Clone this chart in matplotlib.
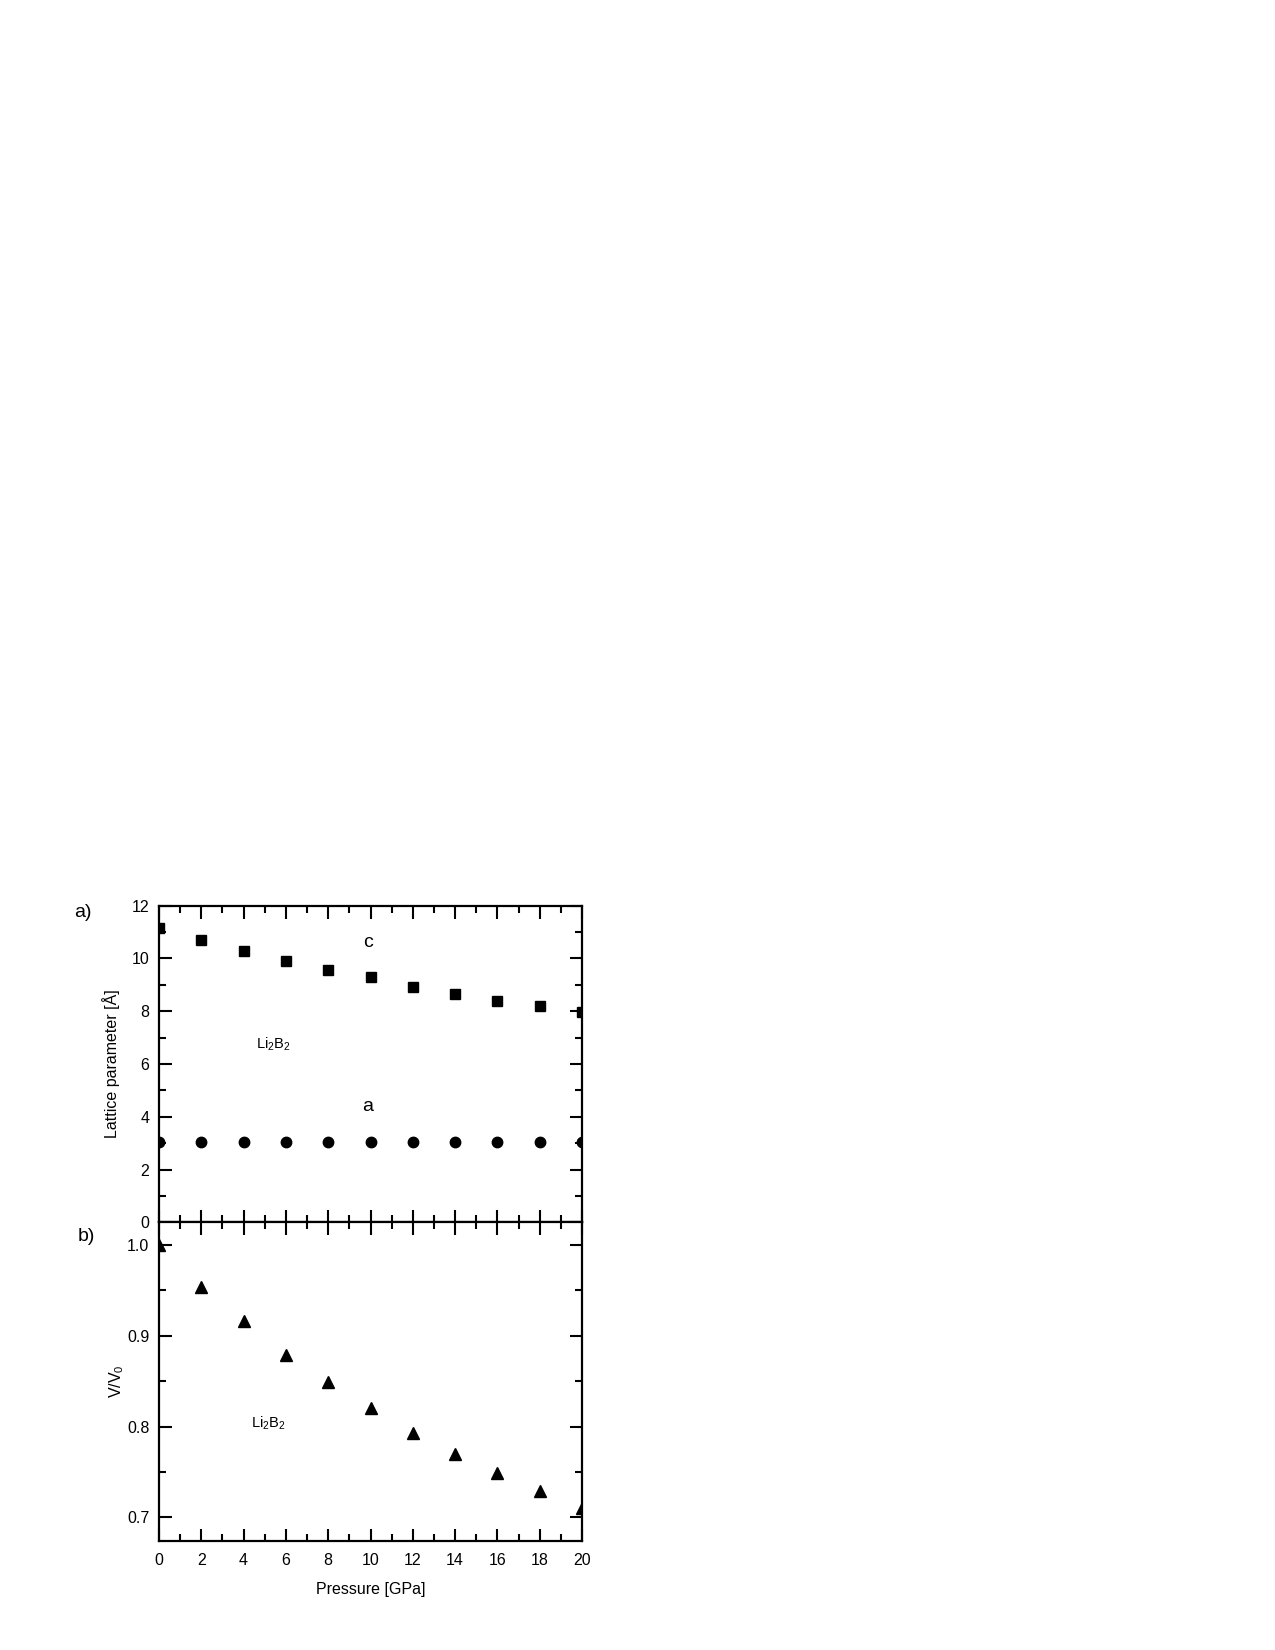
import matplotlib
matplotlib.use('Agg')
import matplotlib.pyplot as plt
from matplotlib.ticker import MultipleLocator, FormatStrFormatter

plt.rcParams['font.family'] = ['Liberation Sans', 'DejaVu Sans']
plt.rcParams['mathtext.fontset'] = 'custom'
plt.rcParams['mathtext.rm'] = 'Liberation Sans'
plt.rcParams['mathtext.it'] = 'Liberation Sans:italic'

# data
pressure = [0, 2, 4, 6, 8, 10, 12, 14, 16, 18, 20]
c_param = [11.16, 10.69, 10.29, 9.92, 9.58, 9.30, 8.92, 8.64, 8.40, 8.20, 7.97]
a_param = [3.04, 3.04, 3.04, 3.03, 3.03, 3.03, 3.04, 3.03, 3.03, 3.03, 3.03]
v_ratio = [1.0, 0.954, 0.916, 0.879, 0.849, 0.820, 0.793, 0.770, 0.749, 0.729, 0.710]

fig = plt.figure(figsize=(12.75, 16.5), dpi=100)
ax1 = fig.add_axes([0.1247, 0.2592, 0.3318, 0.1919])
ax2 = fig.add_axes([0.1247, 0.0661, 0.3318, 0.1931])

for ax in (ax1, ax2):
    ax.set_xlim(0, 20)
    ax.xaxis.set_major_locator(MultipleLocator(2))
    ax.xaxis.set_minor_locator(MultipleLocator(1))
    ax.tick_params(which='both', direction='in', top=True, right=True,
                   width=1.5, labelsize=11.5, colors='black', pad=7)
    ax.tick_params(which='major', length=9)
    ax.tick_params(which='minor', length=5)
    for s in ax.spines.values():
        s.set_linewidth(1.6)
ax2.tick_params(axis='x', pad=9)

# top panel: lattice parameters
ax1.plot(pressure, c_param, 's', color='black', markersize=7)
ax1.plot(pressure, a_param, 'o', color='black', markersize=7.5)
ax1.set_ylim(0, 12)
ax1.yaxis.set_major_locator(MultipleLocator(2))
ax1.yaxis.set_minor_locator(MultipleLocator(1))
ax1.tick_params(axis='x', labelbottom=False)
ax1.set_ylabel('Lattice parameter [Å]', fontsize=11.5, labelpad=8)
ax1.text(9.9, 10.6, 'c', fontsize=14, ha='center', va='center')
ax1.text(9.85, 4.4, 'a', fontsize=14, ha='center', va='center')
ax1.text(5.4, 6.75, r'$\mathregular{Li_2B_2}$', fontsize=10.5, ha='center', va='center')
fig.text(0.0651, 0.4467, 'a)', fontsize=14, ha='center', va='center')

# bottom panel: relative volume
ax2.plot(pressure, v_ratio, '^', color='black', markersize=8.5)
ax2.set_ylim(0.674, 1.025)
ax2.yaxis.set_major_locator(MultipleLocator(0.1))
ax2.yaxis.set_minor_locator(MultipleLocator(0.05))
ax2.yaxis.set_major_formatter(FormatStrFormatter('%.1f'))
ax2.set_ylabel(r'V/V$\mathregular{_0}$', fontsize=11.5, labelpad=1)
ax2.set_xlabel('Pressure [GPa]', fontsize=11.5, labelpad=10)
ax2.text(5.17, 0.804, r'$\mathregular{Li_2B_2}$', fontsize=10.5, ha='center', va='center')
fig.text(0.0675, 0.2509, 'b)', fontsize=14, ha='center', va='center')

fig.savefig('out.png', dpi=100)
